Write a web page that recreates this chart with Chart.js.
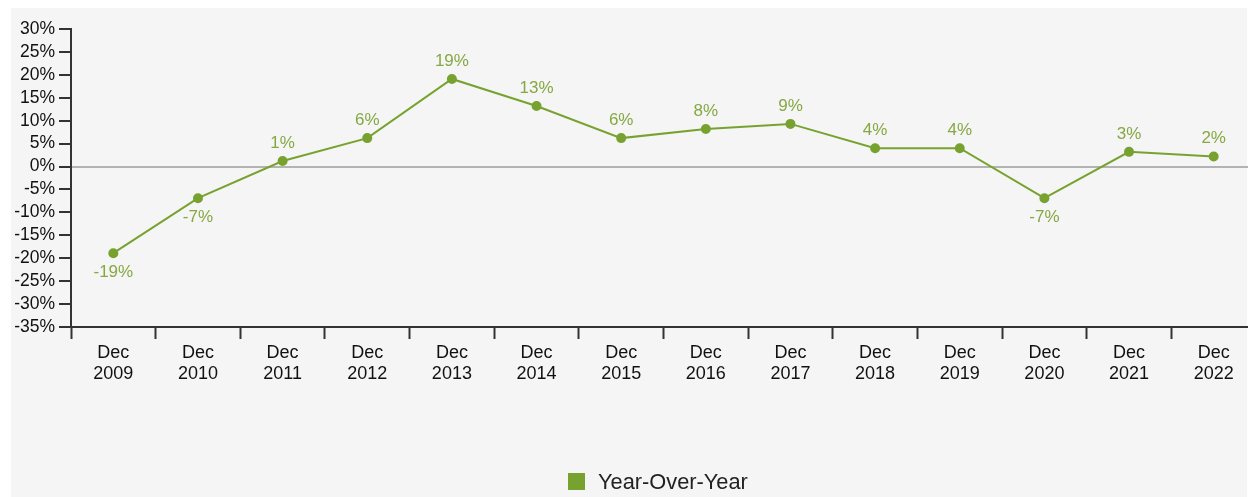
<!DOCTYPE html>
<html>
<head>
<meta charset="utf-8">
<script src="https://cdn.jsdelivr.net/npm/chart.js@4"></script>
<style>
  html, body { margin: 0; padding: 0; background: #ffffff; overflow: hidden; width: 1248px; height: 497px; }
  #bg { position: absolute; left: 11px; top: 8px; width: 1236px; height: 489px; background: #f5f5f5; }
  #wrap { position: absolute; left: 0; top: 0; width: 1262px; height: 497px; }
  #legend { position: absolute; left: 568px; top: 468px; height: 24px; font-family: "Liberation Sans", Arial, sans-serif; font-size: 21.8px; color: #222; white-space: nowrap; }
  #legend .box { display: inline-block; width: 17px; height: 17px; background: #78a22f; vertical-align: middle; margin-right: 13px; position: relative; top: -1px; }
  #legend span.txt { vertical-align: middle; }
</style>
</head>
<body>
<div id="bg"></div>
<div id="wrap"><canvas id="c"></canvas></div>
<div id="legend"><span class="box"></span><span class="txt">Year-Over-Year</span></div>
<script>
const categories = [["Dec","2009"],["Dec","2010"],["Dec","2011"],["Dec","2012"],["Dec","2013"],["Dec","2014"],["Dec","2015"],["Dec","2016"],["Dec","2017"],["Dec","2018"],["Dec","2019"],["Dec","2020"],["Dec","2021"],["Dec","2022"]];
const seriesName = "Year-Over-Year";
const yoyValues = [-18.9, -6.9, 1.2, 6.2, 19.1, 13.2, 6.2, 8.2, 9.3, 4.0, 4.0, -6.9, 3.2, 2.2];
const yMin = -35, yMax = 30, yStep = 5;

const lineColor = '#78a22f';
const labelColor = '#86a843';
const axisColor = '#333333';

const valueLabels = {
  id: 'valueLabels',
  afterDatasetsDraw(chart) {
    const ctx = chart.ctx;
    const meta = chart.getDatasetMeta(0);
    ctx.save();
    ctx.font = '17px "Liberation Sans", Arial, sans-serif';
    ctx.fillStyle = labelColor;
    ctx.textAlign = 'center';
    ctx.textBaseline = 'middle';
    meta.data.forEach((pt, i) => {
      const v = chart.data.datasets[0].data[i];
      const txt = Math.round(v) + '%';
      const y = v >= 0 ? pt.y - 18 : pt.y + 19;
      ctx.fillText(txt, pt.x, y);
    });
    ctx.restore();
  }
};

new Chart(document.getElementById('c'), {
  type: 'line',
  data: {
    labels: categories,
    datasets: [{
      label: seriesName,
      data: yoyValues,
      borderColor: lineColor,
      backgroundColor: lineColor,
      pointBackgroundColor: lineColor,
      pointBorderColor: lineColor,
      borderWidth: 2,
      pointRadius: 4,
      pointHoverRadius: 4,
      tension: 0,
      fill: false
    }]
  },
  options: {
    responsive: true,
    maintainAspectRatio: false,
    animation: false,
    layout: { padding: { top: 29, right: 5, bottom: 0, left: 0 } },
    plugins: {
      legend: { display: false },
      tooltip: { enabled: false }
    },
    scales: {
      x: {
        type: 'category',
        offset: true,
        afterFit(scale) { scale.height = 170; },
        grid: {
          offset: true,
          drawOnChartArea: false,
          drawTicks: true,
          tickLength: 12,
          color: axisColor,
          tickColor: axisColor,
          tickWidth: 2
        },
        border: { display: true, color: axisColor, width: 2 },
        ticks: {
          color: '#111',
          font: { family: '"Liberation Sans", Arial, sans-serif', size: 18 },
          padding: 3,
          maxRotation: 0,
          autoSkip: false
        }
      },
      y: {
        min: yMin,
        max: yMax,
        afterFit(scale) { scale.width = 71; },
        grid: {
          drawOnChartArea: true,
          color: (c) => (c.tick && c.tick.value === 0) ? '#b3b3b3' : 'rgba(0,0,0,0)',
          lineWidth: 2,
          drawTicks: true,
          tickLength: 12,
          tickColor: axisColor,
          tickWidth: 2
        },
        border: { display: true, color: axisColor, width: 2 },
        ticks: {
          stepSize: yStep,
          autoSkip: false,
          color: '#111',
          font: { family: '"Liberation Sans", Arial, sans-serif', size: 17.5 },
          padding: 4,
          callback: (v) => v + '%'
        }
      }
    }
  },
  plugins: [valueLabels]
});
</script>
</body>
</html>
